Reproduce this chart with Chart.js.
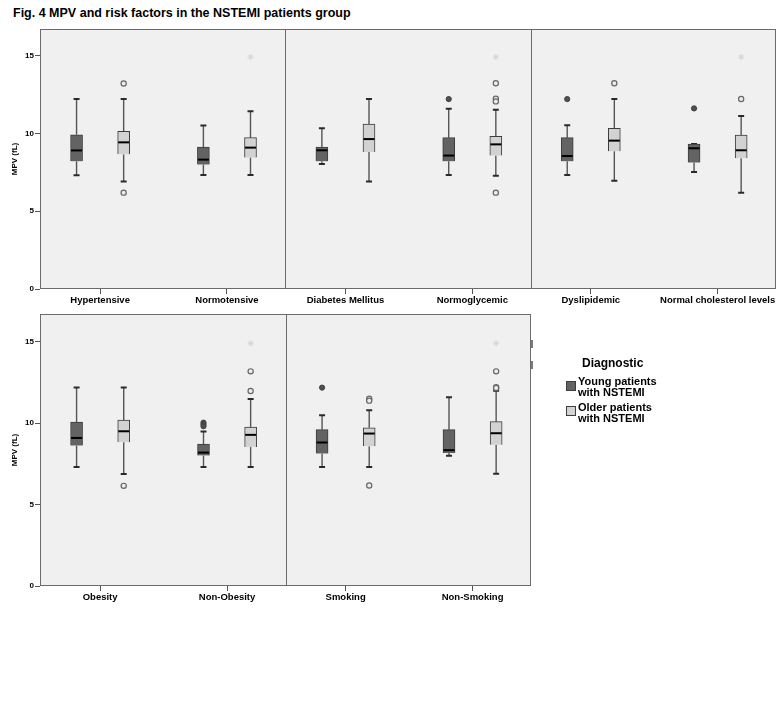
<!DOCTYPE html>
<html>
<head>
<meta charset="utf-8">
<script src="https://cdn.jsdelivr.net/npm/chart.js@4.4.0/dist/chart.umd.min.js"></script>
<style>
  html, body { margin:0; padding:0; background:#fff; width:777px; height:717px; overflow:hidden; }
  body { position:relative; font-family:"Liberation Sans", Arial, Helvetica, sans-serif; }
  #title { position:absolute; left:13px; top:7px; font-weight:bold; font-size:12.5px; line-height:12px; white-space:nowrap; color:#000; }
  #cTop { position:absolute; left:0; top:20px; }
  #cBottom { position:absolute; left:0; top:305px; }
  #legTitle { position:absolute; left:582px; top:357px; font-weight:bold; font-size:12px; line-height:12px; white-space:nowrap; }
  .legSq { position:absolute; left:566px; width:10px; height:10px; box-sizing:border-box; border:1px solid #3c3c3c; }
  .legTx { position:absolute; left:578px; font-weight:bold; font-size:11px; line-height:11px; white-space:nowrap; }
  .edgeMark { position:absolute; left:531px; width:2px; background:#7a7a7a; }
</style>
</head>
<body>
<div id="title">Fig. 4 MPV and risk factors in the NSTEMI patients group</div>
<canvas id="cTop" width="830" height="293"></canvas>
<canvas id="cBottom" width="600" height="305"></canvas>
<div class="edgeMark" style="top:340px;height:8px;"></div>
<div class="edgeMark" style="top:361px;height:8px;"></div>
<div id="legTitle">Diagnostic</div>
<div class="legSq" id="sq0" style="top:381px;"></div>
<div class="legTx" id="tx0" style="top:376px;"></div>
<div class="legSq" id="sq1" style="top:406px;"></div>
<div class="legTx" id="tx1" style="top:402px;"></div>
<script>
// ---------------- DATA ----------------
const seriesNames = ['Young patients with NSTEMI', 'Older patients with NSTEMI'];
const legendLines = [['Young patients', 'with NSTEMI'], ['Older patients', 'with NSTEMI']];
const yTicks = [0, 5, 10, 15];

// Top row
const topCategories = ['Hypertensive', 'Normotensive', 'Diabetes Mellitus', 'Normoglycemic', 'Dyslipidemic', 'Normal cholesterol levels'];
// [lower whisker, Q1, median, Q3, upper whisker]
const topYoung = [
  [7.3, 8.2, 8.9, 9.9, 12.2],
  [7.33, 7.99, 8.31, 9.12, 10.5],
  [8.03, 8.2, 8.91, 9.12, 10.32],
  [7.33, 8.2, 8.57, 9.72, 11.58],
  [7.33, 8.2, 8.54, 9.72, 10.51],
  [7.52, 8.12, 9.04, 9.31, 9.31]
];
const topOlder = [
  [6.9, 8.65, 9.42, 10.13, 12.2],
  [7.33, 8.44, 9.08, 9.72, 11.41],
  [6.9, 8.8, 9.63, 10.6, 12.2],
  [7.28, 8.57, 9.29, 9.81, 11.51],
  [6.96, 8.84, 9.53, 10.32, 12.2],
  [6.19, 8.4, 8.91, 9.89, 11.11]
];
const topYoungOutliers = [[], [], [], [12.2], [12.2], [11.6]];
const topOlderOutliers = [[13.2, 6.19], [], [], [13.22, 12.22, 12.05, 6.19], [13.22], [12.2]];
const topYoungExtremes = [[], [], [], [], [], []];
const topOlderExtremes = [[], [14.9], [], [14.9], [], [14.9]];

// Bottom row
const bottomCategories = ['Obesity', 'Non-Obesity', 'Smoking', 'Non-Smoking'];
const bottomYoung = [
  [7.3, 8.62, 9.09, 10.07, 12.18],
  [7.3, 8.01, 8.19, 8.72, 9.48],
  [7.3, 8.13, 8.81, 9.6, 10.48],
  [7.99, 8.17, 8.34, 9.6, 11.59]
];
const bottomOlder = [
  [6.87, 8.83, 9.5, 10.18, 12.18],
  [7.3, 8.54, 9.28, 9.75, 11.48],
  [7.3, 8.58, 9.36, 9.71, 10.79],
  [6.89, 8.68, 9.38, 10.09, 11.99]
];
const bottomYoungOutliers = [[], [10.03, 9.93, 9.81], [12.18], []];
const bottomOlderOutliers = [[6.15], [13.18, 11.97], [11.5, 11.38, 6.17], [13.18, 12.2, 12.15]];
const bottomYoungExtremes = [[], [], [], []];
const bottomOlderExtremes = [[], [14.9], [], [14.9]];

// ---------------- LAYOUT / STYLE ----------------
const PANEL_CAT_POS = [0.245, 0.762];   // category centre inside a panel (panel = 1 unit)
const GROUP_OFFSET = 0.096;             // young left / older right of the category
const Y_MAX = 16.7;
const COLORS = { young: '#636363', older: '#d2d2d2', border: '#3c3c3c', panel: '#f0f0f0', frame: '#6b6b6b' };

function catX(i) { return Math.floor(i / 2) + PANEL_CAT_POS[i % 2]; }

Chart.defaults.font.family = '"Liberation Sans", Arial, Helvetica, sans-serif';
Chart.defaults.color = '#000';

// legend (HTML)
document.getElementById('sq0').style.background = COLORS.young;
document.getElementById('sq1').style.background = COLORS.older;
document.getElementById('tx0').innerHTML = legendLines[0].join('<br>');
document.getElementById('tx1').innerHTML = legendLines[1].join('<br>');

const boxPlotPlugin = {
  id: 'boxPlot',
  beforeDraw(chart) {
    const { ctx, chartArea: a } = chart;
    ctx.save();
    ctx.fillStyle = COLORS.panel;
    ctx.fillRect(a.left, a.top, a.right - a.left, a.bottom - a.top);
    ctx.restore();
  },
  beforeDatasetsDraw(chart, args, opts) {
    const { ctx } = chart;
    const xs = chart.scales.x, ys = chart.scales.y;
    ctx.save();
    opts.groups.forEach(g => {
      g.stats.forEach((s, i) => {
        const px = xs.getPixelForValue(catX(i) + g.offset);
        ctx.strokeStyle = '#555';
        ctx.lineWidth = 1.4;
        ctx.beginPath();
        ctx.moveTo(px, ys.getPixelForValue(s[0]));
        ctx.lineTo(px, ys.getPixelForValue(s[1]));
        ctx.moveTo(px, ys.getPixelForValue(s[3]));
        ctx.lineTo(px, ys.getPixelForValue(s[4]));
        ctx.stroke();
        ctx.strokeStyle = '#2a2a2a';
        ctx.lineWidth = 2;
        ctx.beginPath();
        [s[0], s[4]].forEach(v => {
          const py = ys.getPixelForValue(v);
          ctx.moveTo(px - 3, py);
          ctx.lineTo(px + 3, py);
        });
        ctx.stroke();
      });
    });
    ctx.restore();
  },
  afterDatasetsDraw(chart, args, opts) {
    const { ctx } = chart;
    const xs = chart.scales.x, ys = chart.scales.y;
    ctx.save();
    ctx.strokeStyle = '#000';
    ctx.lineWidth = 2;
    opts.groups.forEach(g => {
      g.stats.forEach((s, i) => {
        const px = xs.getPixelForValue(catX(i) + g.offset);
        const py = ys.getPixelForValue(s[2]);
        ctx.beginPath();
        ctx.moveTo(px - 5.5, py);
        ctx.lineTo(px + 5.5, py);
        ctx.stroke();
      });
    });
    ctx.restore();
  },
  afterDraw(chart, args, opts) {
    const { ctx, chartArea: a } = chart;
    const xs = chart.scales.x;
    ctx.save();
    ctx.strokeStyle = COLORS.frame;
    ctx.lineWidth = 1;
    const L = Math.round(a.left) + 0.5, R = Math.round(a.right) - 0.5;
    const T = Math.round(a.top) + 0.5, B = Math.round(a.bottom) - 0.5;
    ctx.strokeRect(L, T, R - L, B - T);
    ctx.beginPath();
    for (let p = 1; p < opts.panels; p++) {
      const dx = Math.round(xs.getPixelForValue(p)) + 0.5;
      ctx.moveTo(dx, T);
      ctx.lineTo(dx, B);
    }
    ctx.stroke();
    ctx.restore();
  }
};

function makeRow(canvasId, cats, young, older, yOut, oOut, yExt, oExt, panels, padRight) {
  const boxData = (stats, off) => stats.map((s, i) => ({ x: catX(i) + off, y: [s[1], s[3]] }));
  const pts = (lists, off) => lists.flatMap((l, i) => l.map(v => ({ x: catX(i) + off, y: v })));
  new Chart(document.getElementById(canvasId), {
    type: 'bar',
    data: {
      datasets: [
        { type: 'bar', label: seriesNames[0], data: boxData(young, -GROUP_OFFSET), backgroundColor: COLORS.young,
          borderColor: COLORS.border, borderWidth: 1, barThickness: 12, grouped: false, order: 3 },
        { type: 'bar', label: seriesNames[1], data: boxData(older, GROUP_OFFSET), backgroundColor: COLORS.older,
          borderColor: COLORS.border, borderWidth: 1, barThickness: 12, grouped: false, order: 3 },
        { type: 'scatter', label: 'Young outliers', data: pts(yOut, -GROUP_OFFSET), pointStyle: 'circle', pointRadius: 2.6,
          backgroundColor: '#505050', borderColor: '#404040', borderWidth: 1, order: 1 },
        { type: 'scatter', label: 'Older outliers', data: pts(oOut, GROUP_OFFSET), pointStyle: 'circle', pointRadius: 2.6,
          backgroundColor: '#ececec', borderColor: '#666', borderWidth: 1.2, order: 1 },
        { type: 'scatter', label: 'Young extremes', data: pts(yExt, -GROUP_OFFSET), pointStyle: 'star', pointRadius: 3,
          borderColor: '#d4d4d4', borderWidth: 1, order: 1 },
        { type: 'scatter', label: 'Older extremes', data: pts(oExt, GROUP_OFFSET), pointStyle: 'star', pointRadius: 3,
          borderColor: '#d4d4d4', borderWidth: 1, order: 1 }
      ]
    },
    options: {
      responsive: false,
      animation: false,
      events: [],
      layout: { padding: { top: 9, left: 0, right: padRight, bottom: 0 } },
      plugins: {
        legend: { display: false },
        tooltip: { enabled: false },
        boxPlot: { groups: [{ stats: young, offset: -GROUP_OFFSET }, { stats: older, offset: GROUP_OFFSET }], panels: panels }
      },
      scales: {
        x: {
          type: 'linear', min: 0, max: panels, bounds: 'data', offset: false,
          afterBuildTicks: s => { s.ticks = cats.map((c, i) => ({ value: catX(i) })); },
          afterFit: s => { s.height = 24; },
          ticks: { autoSkip: false, maxRotation: 0, minRotation: 0, padding: 1, color: '#000',
                   font: { size: 9.5, weight: 'bold' }, callback: (v, i) => cats[i] },
          grid: { display: true, offset: false, drawOnChartArea: false, drawTicks: true, tickLength: 5, color: '#555' },
          border: { display: false }
        },
        y: {
          type: 'linear', min: 0, max: Y_MAX, bounds: 'data', offset: false,
          afterBuildTicks: s => { s.ticks = yTicks.map(v => ({ value: v })); },
          afterFit: s => { s.width = 40; },
          ticks: { padding: 1, color: '#000', font: { size: 8, weight: 'bold' } },
          grid: { display: true, offset: false, drawOnChartArea: false, drawTicks: true, tickLength: 5, color: '#555' },
          border: { display: false },
          title: { display: true, text: 'MPV (fL)', color: '#000', font: { size: 8, weight: 'bold' }, padding: { top: 10, bottom: 0 } }
        }
      }
    },
    plugins: [boxPlotPlugin]
  });
}

makeRow('cTop', topCategories, topYoung, topOlder, topYoungOutliers, topOlderOutliers, topYoungExtremes, topOlderExtremes, 3, 54);
makeRow('cBottom', bottomCategories, bottomYoung, bottomOlder, bottomYoungOutliers, bottomOlderOutliers, bottomYoungExtremes, bottomOlderExtremes, 2, 69);
</script>
</body>
</html>
